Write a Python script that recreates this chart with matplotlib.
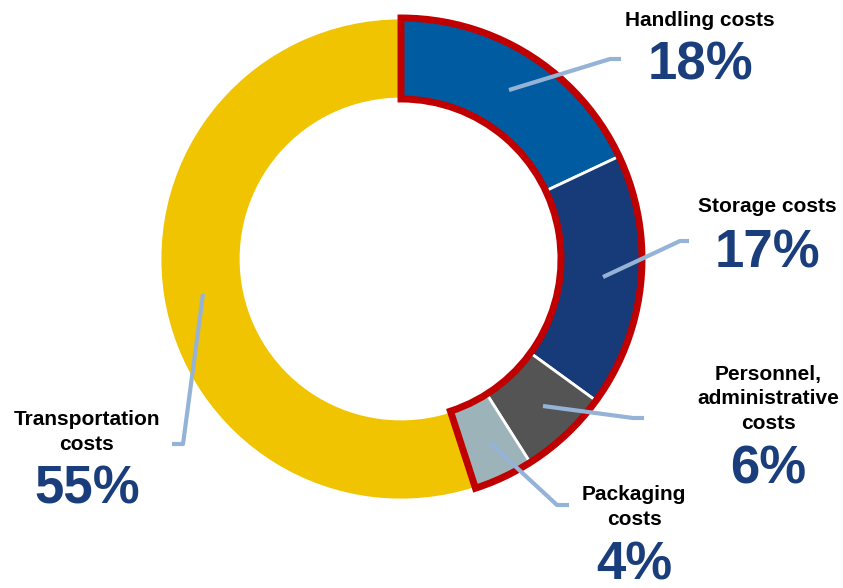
import matplotlib.pyplot as plt
from matplotlib.patches import Wedge

plt.rcParams['font.family'] = ['Liberation Sans', 'DejaVu Sans']

# cost split, clockwise from 12 o'clock
categories = ["Handling costs", "Storage costs", "Personnel,\nadministrative\ncosts",
              "Packaging\ncosts", "Transportation\ncosts"]
shares = [18, 17, 6, 4, 55]
colors = ["#005BA0", "#173A78", "#545454", "#9DB3BA", "#F0C400"]
n_outlined = 4  # the first four segments get the red frame

W, H = 843, 588
cx, cy = 401, H - 259
r_out, ring = 241, 81

fig = plt.figure(figsize=(W / 100, H / 100), dpi=100)
ax = fig.add_axes([0, 0, 1, 1])

ax.pie(shares, colors=colors, startangle=90, counterclock=False,
       center=(cx, cy), radius=r_out,
       wedgeprops=dict(width=ring, edgecolor="white", linewidth=2))

# red frame around the non-transport segments
span = 360 * sum(shares[:n_outlined]) / sum(shares)
ax.add_patch(Wedge((cx, cy), r_out, 90 - span, 90, width=ring, fill=False,
                   edgecolor="#C00000", linewidth=5, joinstyle="miter"))

# leader lines (image pixel coords, y down)
leaders = [
    [(509, 90), (610, 59), (621, 59)],
    [(603, 277), (680, 241), (689, 241)],
    [(543, 406), (633, 418), (644, 418)],
    [(490, 443), (557, 505), (569, 505)],
    [(203, 294), (183, 444), (172, 444)],
]
# label blocks: (x, y of name, y of percent)
label_pos = [
    (700, 20, 66),
    (767, 207, 253),
    (768, 399, 470),
    (634, 507, 566),
    (87, 432, 490),
]

for pts, (lx, ly, py), name, val in zip(leaders, label_pos, categories, shares):
    xs = [p[0] for p in pts]
    ys = [H - p[1] for p in pts]
    ax.plot(xs, ys, color="#95B3D7", linewidth=3, solid_capstyle="butt")
    ax.text(lx, H - ly, name, ha="center", va="center", fontsize=15,
            fontweight="bold", color="black", linespacing=1.35)
    ax.text(lx, H - py, f"{val}%", ha="center", va="center", fontsize=38,
            fontweight="bold", color="#1A3D7C")

ax.set_xlim(0, W)
ax.set_ylim(0, H)
ax.set_aspect("equal")
ax.axis("off")

fig.savefig("out.png", dpi=100)
